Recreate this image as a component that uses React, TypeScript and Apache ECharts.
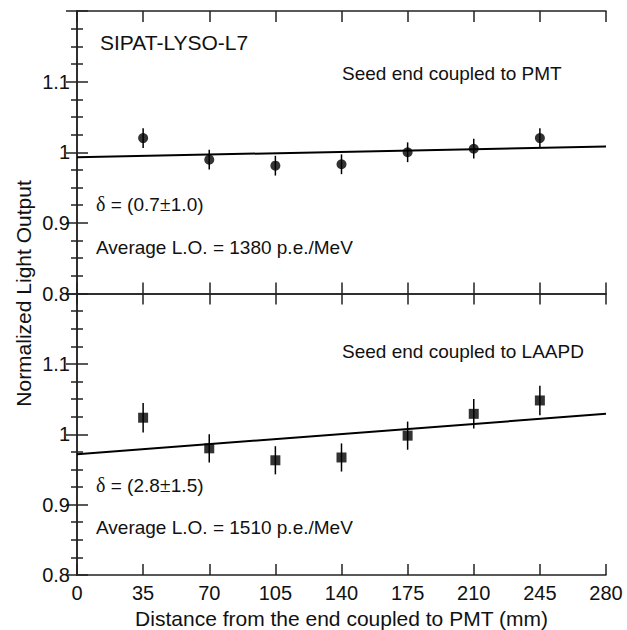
import React, { useEffect, useRef } from "react";
import * as echarts from "echarts";

const distances = [35, 70, 105, 140, 175, 210, 245];
const pmtValues = [1.02, 0.9895, 0.981, 0.983, 1.0, 1.005, 1.02];
const pmtErrors = [0.014, 0.014, 0.014, 0.014, 0.014, 0.014, 0.014];
const laapdValues = [1.0235, 0.98, 0.963, 0.967, 0.998, 1.029, 1.048];
const laapdErrors = [0.021, 0.02, 0.02, 0.02, 0.02, 0.021, 0.021];
const pmtFit = [
  [0, 0.993],
  [280, 1.008],
];
const laapdFit = [
  [0, 0.9716],
  [280, 1.029],
];
const xMin = 0;
const xMax = 280;
const xStep = 35;
const yMin = 0.8;
const yMax = 1.2;
const yStep = 0.1;

const FONT = "'Liberation Sans', Arial, Helvetica, sans-serif";
const AX = "#222";

export default function App() {
  const ref = useRef<HTMLDivElement>(null);
  useEffect(() => {
    if (!ref.current) return;
    const chart = echarts.init(ref.current, null, { renderer: "svg" });
    const axisLine = { show: true, lineStyle: { color: AX, width: 1.5 } };
    const xAxisBase = (gridIndex: number, position: string, labels: boolean) => ({
      type: "value",
      gridIndex,
      position,
      min: xMin,
      max: xMax,
      interval: xStep,
      axisLine,
      axisTick: { show: true, inside: true, length: 11, lineStyle: { color: AX, width: 1.5 } },
      axisLabel: labels
        ? { show: true, fontSize: 20, color: "#111", fontFamily: FONT, margin: 8 }
        : { show: false },
      splitLine: { show: false },
    });
    const yAxisBase = (gridIndex: number, position: string, labels: boolean) => ({
      type: "value",
      gridIndex,
      position,
      min: yMin,
      max: yMax,
      interval: yStep,
      axisLine,
      axisTick: { show: true, inside: true, length: 11, lineStyle: { color: AX, width: 1.5 } },
      minorTick: { show: true, splitNumber: 4, length: 6, lineStyle: { color: AX, width: 1.5 } },
      axisLabel: labels
        ? {
            show: true,
            fontSize: 20,
            color: "#111",
            fontFamily: FONT,
            margin: 7,
            showMaxLabel: false,
            formatter: (v: number) => String(parseFloat(v.toFixed(2))),
          }
        : { show: false },
      splitLine: { show: false },
      minorSplitLine: { show: false },
    });

    const errorSeries = (vals: number[], errs: number[], idx: number) => ({
      type: "custom",
      xAxisIndex: idx,
      yAxisIndex: idx,
      data: distances.map((d, i) => [d, vals[i], errs[i]]),
      encode: { x: 0, y: 1 },
      renderItem: (_p: any, api: any) => {
        const x = api.value(0);
        const y = api.value(1);
        const e = api.value(2);
        const a = api.coord([x, y - e]);
        const b = api.coord([x, y + e]);
        return {
          type: "line",
          shape: { x1: a[0], y1: a[1], x2: b[0], y2: b[1] },
          style: { stroke: "#000", lineWidth: 1.5 },
        };
      },
      z: 3,
    });

    const text = (t: string, x: number, y: number, size = 19, extra: any = {}) => ({
      type: "text",
      x,
      y,
      style: {
        text: t,
        fontSize: size,
        fontFamily: FONT,
        fill: "#111",
        textVerticalAlign: "middle",
        ...extra,
      },
    });
    const rich = { d: { fontFamily: "'Liberation Serif', 'DejaVu Serif', serif", fontSize: 20, fill: "#111" } };

    chart.setOption({
      animation: false,
      backgroundColor: "#fff",
      grid: [
        { left: 77, top: 11, width: 529, height: 282.5 },
        { left: 77, top: 293.5, width: 529, height: 282.2 },
      ],
      xAxis: [
        xAxisBase(0, "bottom", false),
        xAxisBase(0, "top", false),
        {
          ...xAxisBase(1, "bottom", true),
          name: "Distance from the end coupled to PMT (mm)",
          nameLocation: "middle",
          nameGap: 33,
          nameTextStyle: { fontSize: 21, fontFamily: FONT, color: "#111" },
        },
        xAxisBase(1, "top", false),
      ],
      yAxis: [
        yAxisBase(0, "left", true),
        yAxisBase(0, "right", false),
        yAxisBase(1, "left", true),
        yAxisBase(1, "right", false),
      ],
      series: [
        {
          type: "line",
          xAxisIndex: 0,
          yAxisIndex: 0,
          data: pmtFit,
          symbol: "none",
          lineStyle: { color: "#000", width: 2 },
          z: 2,
        },
        errorSeries(pmtValues, pmtErrors, 0),
        {
          type: "scatter",
          xAxisIndex: 0,
          yAxisIndex: 0,
          data: distances.map((d, i) => [d, pmtValues[i]]),
          symbol: "circle",
          symbolSize: 10,
          itemStyle: { color: "#000" },
          z: 4,
        },
        {
          type: "line",
          xAxisIndex: 2,
          yAxisIndex: 2,
          data: laapdFit,
          symbol: "none",
          lineStyle: { color: "#000", width: 2 },
          z: 2,
        },
        errorSeries(laapdValues, laapdErrors, 2),
        {
          type: "scatter",
          xAxisIndex: 2,
          yAxisIndex: 2,
          data: distances.map((d, i) => [d, laapdValues[i]]),
          symbol: "rect",
          symbolSize: 10,
          itemStyle: { color: "#000" },
          z: 4,
        },
      ],
      graphic: [
        {
          type: "text",
          x: 23,
          y: 293.5,
          rotation: Math.PI / 2,
          style: {
            text: "Normalized Light Output",
            fontSize: 21,
            fontFamily: FONT,
            fill: "#111",
            textAlign: "center",
            textVerticalAlign: "middle",
          },
        },
        text("SIPAT-LYSO-L7", 100, 42, 21),
        text("Seed end coupled to PMT", 342, 73.5),
        text("{d|δ} = (0.7{d|±}1.0)", 96, 204, 19, { rich }),
        text("Average L.O. = 1380 p.e./MeV", 96, 247.5),
        text("Seed end coupled to LAAPD", 342, 351),
        text("{d|δ} = (2.8{d|±}1.5)", 96, 485, 19, { rich }),
        text("Average L.O. = 1510 p.e./MeV", 96, 527),
      ],
    });
    return () => chart.dispose();
  }, []);
  return (
    <div
      ref={ref}
      style={{ position: "absolute", left: 0, top: 0, width: 627, height: 630 }}
    />
  );
}
